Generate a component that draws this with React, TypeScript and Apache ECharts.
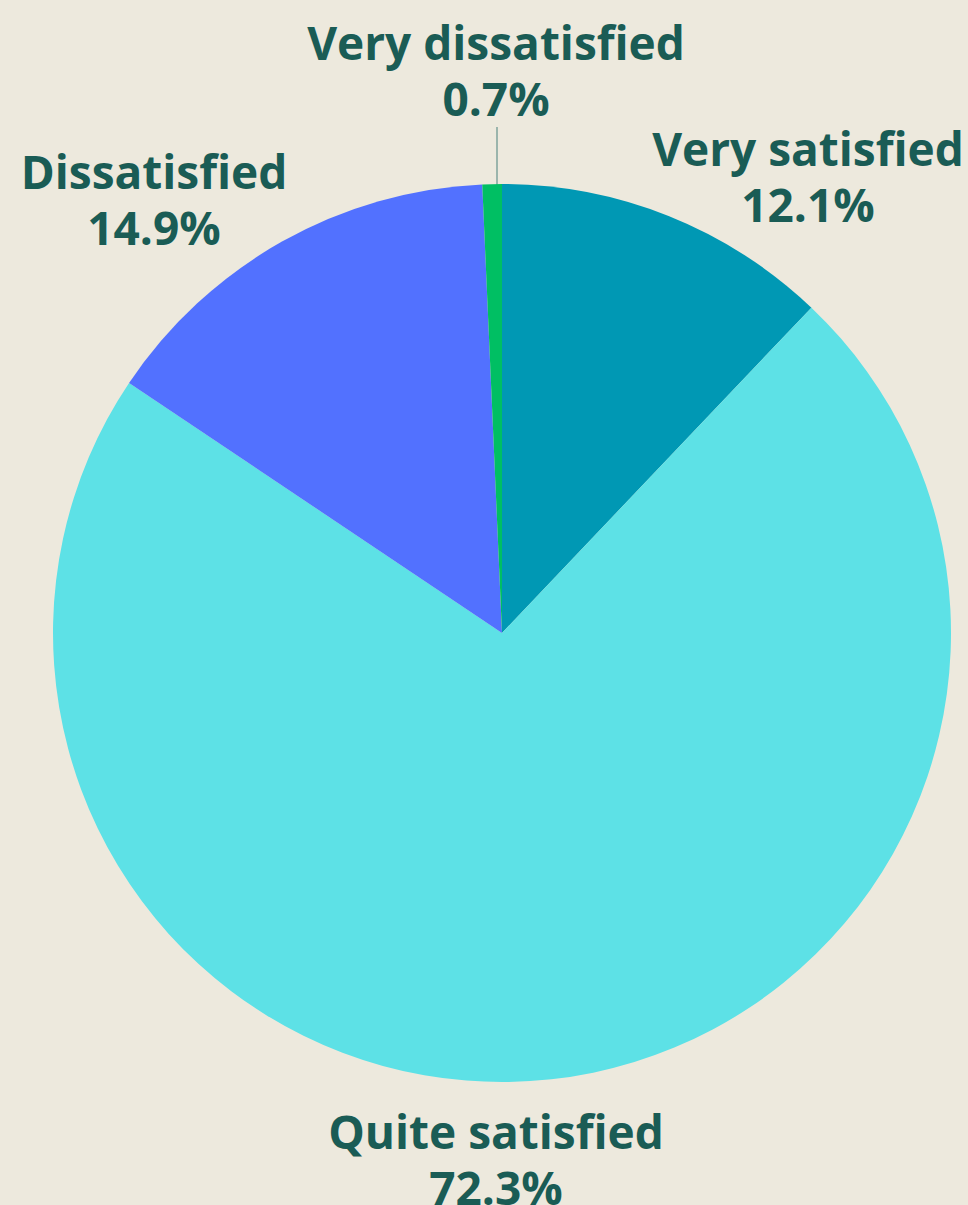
import React, { useEffect, useRef } from "react";
import * as echarts from "echarts";

const categories = ["Very satisfied", "Quite satisfied", "Dissatisfied", "Very dissatisfied"];
const values = [12.1, 72.3, 14.9, 0.7];
const colors = ["#0098B4", "#5DE1E6", "#5271FF", "#00BF63"];

// label layout (center x, middle y of the two-line label)
const labelPos = [
  [808, 176],
  [496, 1159],
  [154, 199],
  [496, 70],
];

export default function App() {
  const ref = useRef<HTMLDivElement>(null);
  useEffect(() => {
    if (!ref.current) return;
    const chart = echarts.init(ref.current, undefined, { renderer: "svg" });
    chart.setOption({
      animation: false,
      backgroundColor: "#EDE9DD",
      series: [
        {
          type: "pie",
          center: [502, 633],
          radius: 449,
          startAngle: 90,
          clockwise: true,
          avoidLabelOverlap: false,
          data: categories.map((name, i) => ({
            name,
            value: values[i],
            itemStyle: { color: colors[i] },
            labelLine: { show: i === 3 },
          })),
          label: {
            show: true,
            position: "outside",
            formatter: (p: any) => `${p.name}\n${p.value}%`,
            color: "#1A5C55",
            fontFamily: "Open Sans",
            fontWeight: "bold",
            fontSize: 46,
            lineHeight: 56,
            align: "center",
          },
          labelLine: {
            show: false,
            lineStyle: { color: "#7FA39B", width: 1.5 },
          },
          labelLayout: (params: any) => {
            const i = params.dataIndex;
            const res: any = {
              x: labelPos[i][0],
              y: labelPos[i][1],
              align: "center",
              verticalAlign: "middle",
            };
            if (i === 3) {
              res.labelLinePoints = [
                [497, 200],
                [497, 164],
                [497, 127],
              ];
            }
            return res;
          },
        },
      ],
    });
    return () => chart.dispose();
  }, []);
  return (
    <div
      ref={ref}
      style={{ position: "fixed", left: 0, top: 0, width: 968, height: 1205 }}
    />
  );
}
